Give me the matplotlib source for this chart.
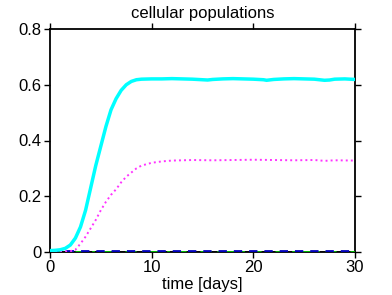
import matplotlib
matplotlib.use("Agg")
import matplotlib.pyplot as plt

t_cyan = [0, 0.5, 1, 1.5, 2, 2.5, 3, 3.5, 4, 4.5, 5, 5.5, 6, 6.5, 7, 7.5, 8, 8.5, 9, 10,
          11, 12, 13, 14, 15, 15.5, 16, 17, 18, 19, 20, 21, 21.3, 22, 23, 24, 25, 26, 27, 27.5, 28, 29, 30]
cyan = [0.005, 0.006, 0.008, 0.013, 0.025, 0.05, 0.09, 0.15, 0.23, 0.31, 0.38, 0.45, 0.51, 0.55,
        0.58, 0.60, 0.612, 0.618, 0.62, 0.621, 0.621, 0.622, 0.621, 0.62, 0.618, 0.617, 0.619, 0.621,
        0.622, 0.621, 0.62, 0.618, 0.616, 0.619, 0.621, 0.622, 0.621, 0.62, 0.616, 0.617, 0.62, 0.621, 0.619]

t_mag = [0, 1, 2, 2.5, 3, 3.5, 4, 4.5, 5, 5.5, 6, 6.5, 7, 7.5, 8, 8.5, 9, 9.5, 10, 11, 12,
         14, 16, 18, 20, 22, 24, 26, 27, 28, 30]
mag = [0.0, 0.001, 0.003, 0.008, 0.03, 0.055, 0.085, 0.115, 0.15, 0.18, 0.205, 0.225, 0.25, 0.27,
       0.285, 0.30, 0.31, 0.315, 0.32, 0.325, 0.328, 0.33, 0.329, 0.33, 0.331, 0.33, 0.329, 0.33, 0.327, 0.329, 0.328]

t_flat = [0, 30]
zero_black = [0.0, 0.0]
zero_green = [0.001, 0.001]
zero_blue = [0.002, 0.002]

xticks = [0, 10, 20, 30]
yticks = [0, 0.2, 0.4, 0.6, 0.8]
yticklabels = ["0", "0.2", "0.4", "0.6", "0.8"]

plt.rcParams['font.family'] = ['Liberation Sans', 'DejaVu Sans']
fig = plt.figure(figsize=(3.92, 2.95), dpi=100)
ax = fig.add_axes([50/392, 1-252/295, 305/392, 223/295])

ax.plot(t_flat, zero_black, color='black', lw=1.2, zorder=3)
ax.plot(t_flat, zero_green, color='#00cc00', lw=2, ls=(0, (4, 2, 1, 2)), zorder=4)
ax.plot(t_flat, zero_blue, color='#0000bb', lw=2, ls=(0, (3, 2.5)), zorder=5)
ax.plot(t_mag, mag, color='#ff33ff', lw=1.4, ls=(0, (1, 1.6)), zorder=6)
ax.plot(t_cyan, cyan, color='#00ffff', lw=2.5, zorder=7)

ax.set_xlim(0, 30)
ax.set_ylim(0, 0.8)
ax.set_xticks(xticks)
ax.set_yticks(yticks)
ax.set_yticklabels(yticklabels)
ax.tick_params(direction='out', length=4, width=1, labelsize=12, top=True, right=True,
               labeltop=False, labelright=False, pad=2)
for s in ax.spines.values():
    s.set_linewidth(1.3)
ax.set_title("cellular populations", fontsize=12, pad=8)
ax.set_xlabel("time [days]", fontsize=12, labelpad=1)

fig.savefig("out.png", dpi=100)
